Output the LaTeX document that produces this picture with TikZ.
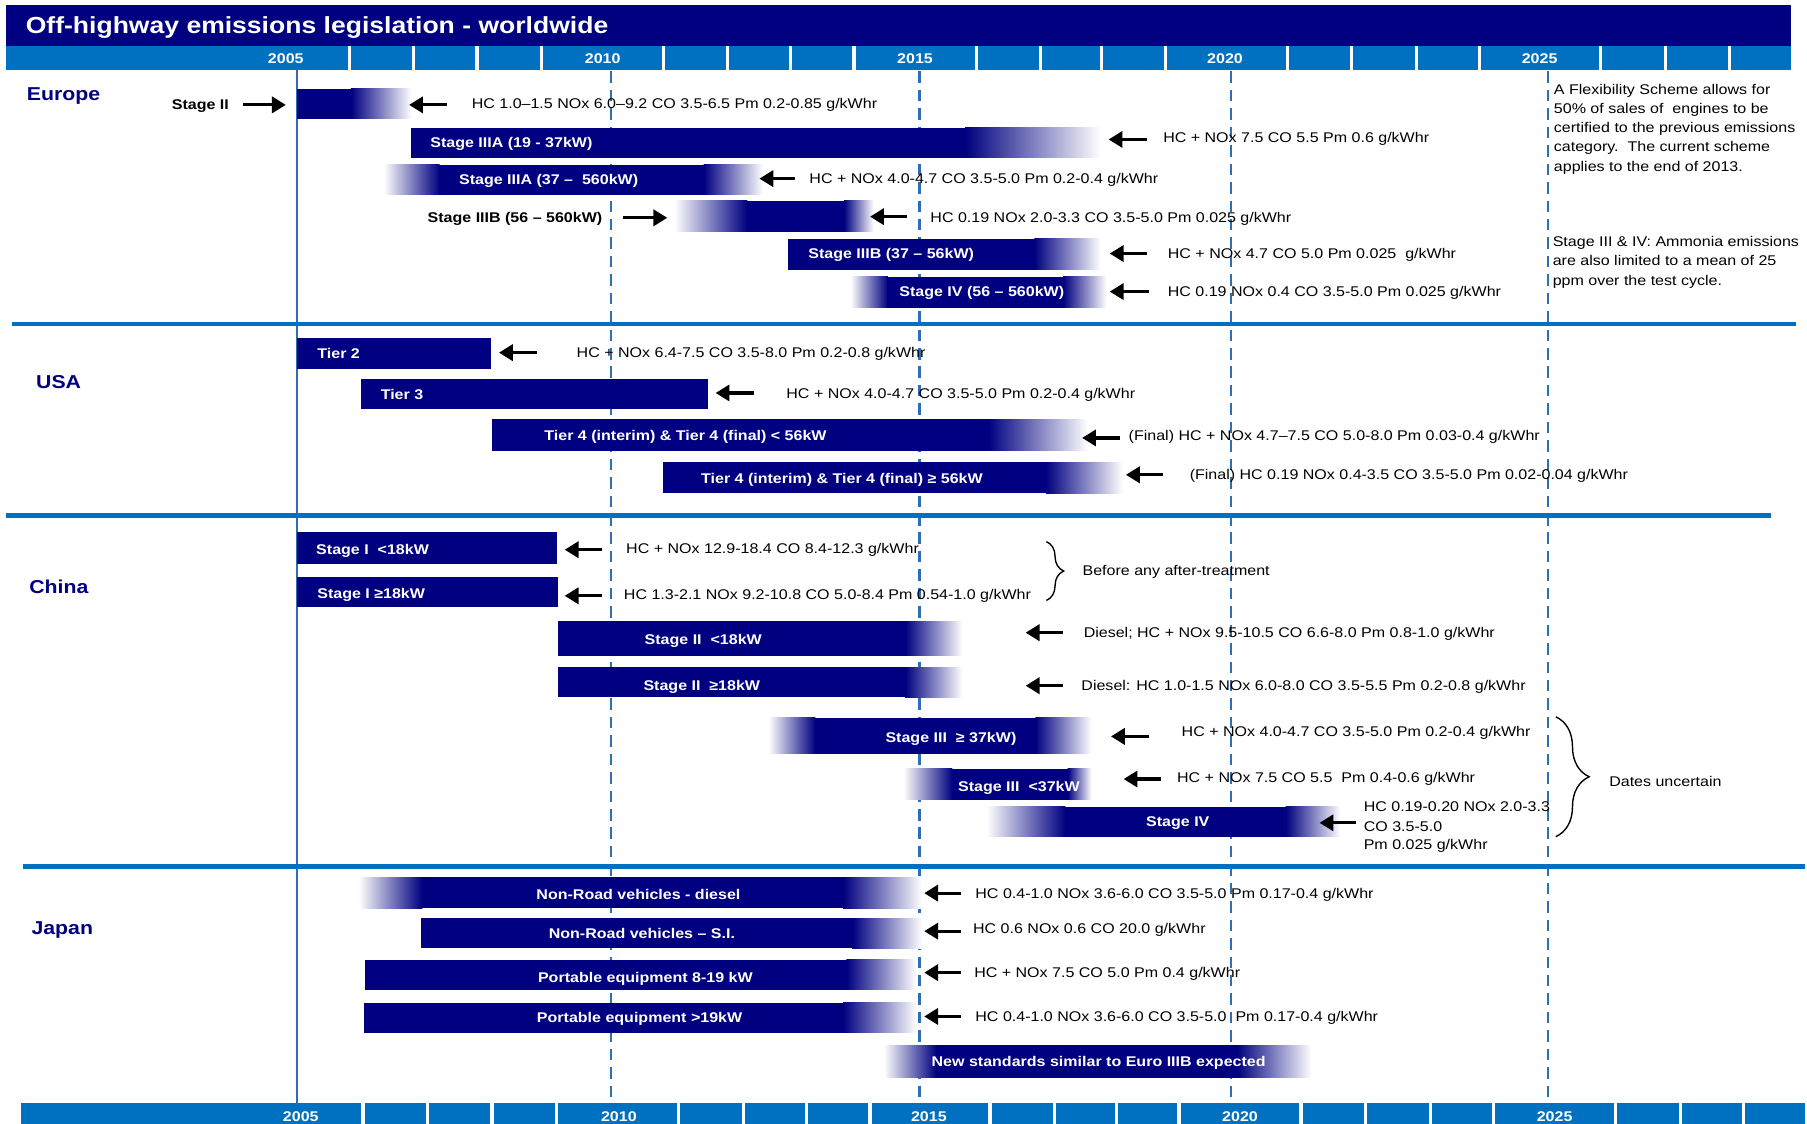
\documentclass[tikz,border=0pt]{standalone}
\usepackage{fontspec}
\setmainfont[FakeStretch=1.14]{Liberation Sans}
\usetikzlibrary{arrows.meta,decorations.pathreplacing}
\definecolor{navyc}{RGB}{0,0,128}
\definecolor{axisblue}{RGB}{0,112,192}
\definecolor{lineblue}{RGB}{46,110,180}
% bar: #1 white-left, #2 solid start, #3 solid end, #4 white-right, #5 top, #6 bottom
\newcommand\gbar[6]{%
  \ifdim #1pt<#2pt \shade[left color=white,right color=navyc] (#1,#5) rectangle (#2+0.5,#6);\fi
  \fill[navyc] (#2,#5) rectangle (#3,#6);
  \ifdim #3pt<#4pt \shade[left color=navyc,right color=white] (#3-0.5,#5) rectangle (#4,#6);\fi}
\newcommand\garr[4]{\coordinate (#1a) at (#2,#4); \coordinate (#1b) at (#3,#4); \draw[arr] (#1a) -- (#1b);}
\begin{document}
\begin{tikzpicture}[x=0.5pt,y=-0.5pt,
  txt/.style={inner sep=0pt,anchor=west,text height=4.4pt,text depth=0pt,font=\fontsize{6.1}{7.3}\selectfont},
  wlab/.style={txt,text=white,font=\fontsize{6.1}{7.3}\selectfont\bfseries},
  blab/.style={txt,anchor=east,font=\fontsize{6.1}{7.3}\selectfont\bfseries},
  region/.style={inner sep=0pt,anchor=west,text height=5.8pt,text depth=0pt,text=navyc,font=\fontsize{8.1}{9}\selectfont\bfseries},
  yearlab/.style={inner sep=0pt,text height=4.4pt,text depth=0pt,text=white,font=\fontsize{6.1}{7.3}\selectfont\bfseries},
  arr/.style={line width=1.4pt,-{Triangle[length=6pt,width=7pt]}},
  sep/.style={axisblue,line width=2pt},
  vsolid/.style={lineblue,line width=1pt},
  vdash/.style={lineblue,line width=1pt,dash pattern=on 5pt off 3pt},
  bracec/.style={decorate,decoration={brace,amplitude=#1},line width=0.6pt},
]
\useasboundingbox (0,0) rectangle (1568,975);
\fill[white] (0,0) rectangle (1568,975);

% vertical year lines
\coordinate (v05t) at (258,61); \coordinate (v05b) at (258,957);
\draw[vsolid] (v05t) -- (v05b);
\foreach \xx/\nm in {530/v10,798/v15,1068/v20,1343/v25}{
  \coordinate (\nm t) at (\xx,62); \coordinate (\nm b) at (\xx,957);
  \draw[vdash] (\nm t) -- (\nm b);}

% horizontal separators
\coordinate (s1a) at (10,281); \coordinate (s1b) at (1558,281); \draw[sep] (s1a) -- (s1b);
\coordinate (s2a) at (5,447.5); \coordinate (s2b) at (1537,447.5); \draw[sep] (s2a) -- (s2b);
\coordinate (s3a) at (20,752); \coordinate (s3b) at (1566,752); \draw[sep] (s3a) -- (s3b);

% ---------- Europe bars
\gbar{258}{258}{305}{357}{77}{103}
\gbar{357}{357}{838}{955}{111}{137}
\gbar{333}{381}{611}{662}{143}{169}
\gbar{585}{648}{733}{758}{174}{201}
\gbar{684}{684}{898}{955}{207}{234}
\gbar{738}{770}{923}{960}{240}{267}
% ---------- USA bars
\gbar{258}{258}{426}{426}{293}{320}
\gbar{313}{313}{614}{614}{329}{355}
\gbar{427}{427}{858}{944}{364}{391}
\gbar{575}{575}{908}{974}{401}{428}
% ---------- China bars
\gbar{258}{258}{483}{483}{462}{489}
\gbar{258}{258}{484}{484}{501}{527}
\gbar{484}{484}{786}{835}{539}{569}
\gbar{484}{484}{786}{835}{579}{605}
\gbar{667}{707}{899}{947}{623}{654}
\gbar{784}{826}{927}{947}{667}{694}
\gbar{856}{924}{1116}{1163}{700}{726}
% ---------- Japan bars
\gbar{311}{366}{732}{800}{761}{788}
\gbar{365}{365}{740}{800}{797}{823}
\gbar{317}{317}{735}{795}{833}{859}
\gbar{316}{316}{732}{795}{870}{896}
\gbar{767}{812}{1074}{1138}{907}{935}

% ---------- region labels
\node[region] (eu) at (23,81) {Europe};
\node[region] (us) at (31,331) {USA};
\node[region] (cn) at (25,509) {China};
\node[region] (jp) at (27,805.5) {Japan};

% ---------- Europe labels
\node[blab] (e1) at (199,91) {Stage II};
\node[wlab] (e2) at (373,124) {Stage IIIA (19 - 37kW)};
\node[wlab] (e3) at (398,156) {Stage IIIA (37 –~~560kW)};
\node[blab] (e4) at (523,189) {Stage IIIB (56 – 560kW)};
\node[wlab] (e5) at (701,220) {Stage IIIB (37 – 56kW)};
\node[wlab] (e6) at (780,253) {Stage IV (56 – 560kW)};
\node[txt] (d1) at (409,90) {HC 1.0–1.5 NOx 6.0–9.2 CO 3.5-6.5 Pm 0.2-0.85 g/kWhr};
\node[txt] (d2) at (1009,119) {HC + NOx 7.5 CO 5.5 Pm 0.6 g/kWhr};
\node[txt] (d3) at (702,155) {HC + NOx 4.0-4.7 CO 3.5-5.0 Pm 0.2-0.4 g/kWhr};
\node[txt] (d4) at (807,189) {HC 0.19 NOx 2.0-3.3 CO 3.5-5.0 Pm 0.025 g/kWhr};
\node[txt] (d5) at (1013,220) {HC + NOx 4.7 CO 5.0 Pm 0.025~~g/kWhr};
\node[txt] (d6) at (1013,253) {HC 0.19 NOx 0.4 CO 3.5-5.0 Pm 0.025 g/kWhr};
\garr{a1}{211}{248}{91}
\garr{a2}{388}{355}{91}
\garr{a3}{995}{962}{121}
\garr{a4}{690}{659}{155}
\garr{a5}{541}{579}{189}
\garr{a6}{787}{755}{188}
\garr{a7}{995}{963}{220}
\garr{a8}{997}{963}{253}
\node[txt] (f1) at (1348,77.5) {A Flexibility Scheme allows for};
\node[txt] (f2) at (1348,94) {50\% of sales of~~engines to be};
\node[txt] (f3) at (1348,110.8) {certified to the previous emissions};
\node[txt] (f4) at (1348,126.7) {category.~~The current scheme};
\node[txt] (f5) at (1348,144) {applies to the end of 2013.};
\node[txt] (g1) at (1347,209.7) {Stage III \& IV: Ammonia emissions};
\node[txt] (g2) at (1347,225.6) {are also limited to a mean of 25};
\node[txt] (g3) at (1347,243) {ppm over the test cycle.};

% ---------- USA labels
\node[wlab] (u1) at (275,307) {Tier 2};
\node[wlab] (u2) at (330,342) {Tier 3};
\node[wlab] (u3) at (472,378) {Tier 4 (interim) \& Tier 4 (final) < 56kW};
\node[wlab] (u4) at (608,415) {Tier 4 (interim) \& Tier 4 (final) ≥ 56kW};
\node[txt] (ud1) at (500,306) {HC + NOx 6.4-7.5 CO 3.5-8.0 Pm 0.2-0.8 g/kWhr};
\node[txt] (ud2) at (682,341) {HC + NOx 4.0-4.7 CO 3.5-5.0 Pm 0.2-0.4 g/kWhr};
\node[txt] (ud3) at (979,378) {(Final) HC + NOx 4.7–7.5 CO 5.0-8.0 Pm 0.03-0.4 g/kWhr};
\node[txt] (ud4) at (1032,412) {(Final) HC 0.19 NOx 0.4-3.5 CO 3.5-5.0 Pm 0.02-0.04 g/kWhr};
\garr{b1}{466}{433}{306}
\garr{b2}{654}{621}{341}
\garr{b3}{972}{939}{380}
\garr{b4}{1009}{977}{412}

% ---------- China labels
\node[wlab] (c1) at (274,477) {Stage I~~<18kW};
\node[wlab] (c2) at (275,515) {Stage I ≥18kW};
\node[wlab] (c3) at (559,555) {Stage II~~<18kW};
\node[wlab] (c4) at (558,595) {Stage II~~≥18kW};
\node[wlab] (c5) at (768,640) {Stage III~~≥ 37kW)};
\node[wlab] (c6) at (831,682) {Stage III~~<37kW};
\node[wlab,anchor=center] (c7) at (1022,713) {Stage IV};
\node[txt] (cd1) at (543,476) {HC + NOx 12.9-18.4 CO 8.4-12.3 g/kWhr};
\node[txt] (cd2) at (541,516) {HC 1.3-2.1 NOx 9.2-10.8 CO 5.0-8.4 Pm 0.54-1.0 g/kWhr};
\node[txt] (cd3) at (939,495) {Before any after-treatment};
\node[txt] (cd4) at (940,549) {Diesel; HC + NOx 9.5-10.5 CO 6.6-8.0 Pm 0.8-1.0 g/kWhr};
\node[txt] (cd5) at (938,595) {Diesel: HC 1.0-1.5 NOx 6.0-8.0 CO 3.5-5.5 Pm 0.2-0.8 g/kWhr};
\node[txt] (cd6) at (1025,635) {HC + NOx 4.0-4.7 CO 3.5-5.0 Pm 0.2-0.4 g/kWhr};
\node[txt] (cd7) at (1021,675) {HC + NOx 7.5 CO 5.5~~Pm 0.4-0.6 g/kWhr};
\node[txt] (cd8) at (1183,700) {HC 0.19-0.20 NOx 2.0-3.3};
\node[txt] (cd9) at (1183,717) {CO 3.5-5.0};
\node[txt] (cd10) at (1183,733) {Pm 0.025 g/kWhr};
\node[txt] (cd11) at (1396,678) {Dates uncertain};
\garr{k1}{522}{490}{477}
\garr{k2}{522}{490}{517}
\garr{k3}{922}{890}{549}
\garr{k4}{922}{890}{595}
\garr{k5}{997}{964}{639}
\garr{k6}{1007}{975}{676}
\garr{k7}{1177}{1145}{714}
\coordinate (br1a) at (908,470); \coordinate (br1b) at (908,521);
\draw[bracec=7.5pt] (br1a) -- (br1b);
\coordinate (br2a) at (1350,622); \coordinate (br2b) at (1350,726);
\draw[bracec=14.5pt] (br2a) -- (br2b);

% ---------- Japan labels
\node[wlab,anchor=center] (j1) at (554,776) {Non-Road vehicles - diesel};
\node[wlab,anchor=center] (j2) at (557,810) {Non-Road vehicles – S.I.};
\node[wlab,anchor=center] (j3) at (560,848) {Portable equipment 8-19 kW};
\node[wlab,anchor=center] (j4) at (555,883) {Portable equipment >19kW};
\node[wlab] (j5) at (808,921) {New standards similar to Euro IIIB expected};
\node[txt] (jd1) at (846,775) {HC 0.4-1.0 NOx 3.6-6.0 CO 3.5-5.0 Pm 0.17-0.4 g/kWhr};
\node[txt] (jd2) at (844,806) {HC 0.6 NOx 0.6 CO 20.0 g/kWhr};
\node[txt] (jd3) at (845,844) {HC + NOx 7.5 CO 5.0 Pm 0.4 g/kWhr};
\node[txt] (jd4) at (846,882) {HC 0.4-1.0 NOx 3.6-6.0 CO 3.5-5.0~~Pm 0.17-0.4 g/kWhr};
\garr{m1}{834}{802}{775}
\garr{m2}{834}{802}{808}
\garr{m3}{834}{802}{844}
\garr{m4}{834}{802}{882}

% ---------- title and year bars
\fill[navyc] (5,4) rectangle (1554,40);
\node[inner sep=0pt,anchor=west,text height=7.2pt,text depth=0pt,text=white,font=\fontsize{10.1}{12}\selectfont\bfseries] (title) at (22,21.7) {Off-highway emissions legislation - worldwide};
\fill[axisblue] (5,40) rectangle (1554,61);
\foreach \xx in {303,359,414,470,576,631,686,741,847,903,956,1011,1117,1173,1229,1284,1389,1445,1501}
  \draw[white,line width=1.4pt] (\xx,40) -- (\xx,61);
\node[yearlab] (t05) at (248,51) {2005};
\node[yearlab] (t10) at (523,51) {2010};
\node[yearlab] (t15) at (794,51) {2015};
\node[yearlab] (t20) at (1063,51) {2020};
\node[yearlab] (t25) at (1336,51) {2025};
\fill[axisblue] (18,957) rectangle (1566,976);
\foreach \xx in {315,371,427,483,589,645,700,755,859,915,969,1023,1129,1185,1241,1296,1402,1458,1513}
  \draw[white,line width=1.4pt] (\xx,957) -- (\xx,976);
\node[yearlab] (b05) at (261,969) {2005};
\node[yearlab] (b10) at (537,969) {2010};
\node[yearlab] (b15) at (806,969) {2015};
\node[yearlab] (b20) at (1076,969) {2020};
\node[yearlab] (b25) at (1349,969) {2025};
\end{tikzpicture}
\end{document}
